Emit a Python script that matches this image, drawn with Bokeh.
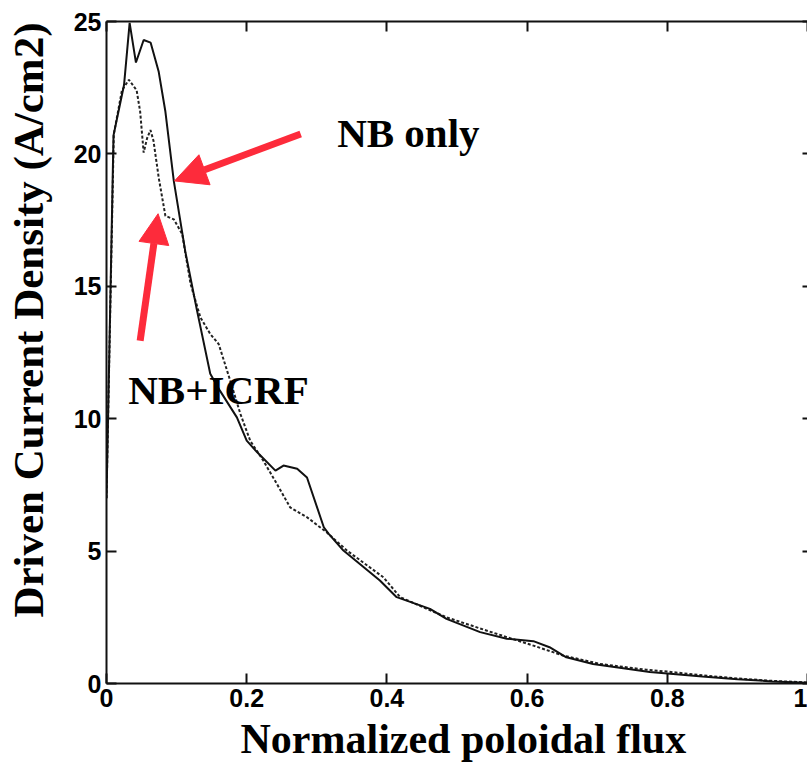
import math
from bokeh.plotting import figure
from bokeh.models import (LinearAxis, Arrow, NormalHead, Title, Range1d,
                          FixedTicker, ColumnDataSource, Label)
from bokeh.embed import file_html
from bokeh.resources import INLINE
from bokeh.core.properties import value

# ---- data ----
nb_x = [0, 0.01, 0.025, 0.033, 0.042, 0.053, 0.063, 0.0745, 0.084, 0.096,
        0.1125, 0.129, 0.148, 0.162, 0.186, 0.2, 0.215, 0.241, 0.2525, 0.272,
        0.286, 0.31, 0.317, 0.338, 0.39, 0.414, 0.4615, 0.485, 0.533, 0.571,
        0.609, 0.632, 0.656, 0.694, 0.727, 0.775, 0.8, 0.85, 0.9, 0.95, 1.0]
nb_y = [7.0, 20.7, 22.6, 24.95, 23.45, 24.3, 24.2, 23.1, 21.6, 18.98,
        16.3, 14.1, 11.7, 11.05, 10.05, 9.17, 8.73, 8.04, 8.23, 8.11,
        7.78, 5.9, 5.65, 5.02, 3.89, 3.26, 2.82, 2.44, 1.94, 1.69,
        1.6, 1.37, 0.99, 0.74, 0.61, 0.43, 0.38, 0.26, 0.16, 0.08, 0.03]

icrf_x = [0, 0.0104, 0.022, 0.032, 0.043, 0.048, 0.053, 0.058, 0.0627, 0.067,
          0.0745, 0.084, 0.096, 0.108, 0.12, 0.134, 0.148, 0.16, 0.1766, 0.191,
          0.205, 0.224, 0.243, 0.262, 0.286, 0.314, 0.343, 0.395, 0.419, 0.485,
          0.542, 0.609, 0.651, 0.704, 0.77, 0.8, 0.85, 0.9, 0.95, 1.0]
icrf_y = [7.0, 20.74, 22.4, 22.8, 22.4, 21.6, 20.05, 20.6, 20.9, 20.5,
          19.1, 17.66, 17.53, 16.97, 15.08, 13.82, 13.2, 12.82, 11.43, 10.18,
          9.17, 8.4, 7.54, 6.65, 6.28, 5.71, 5.02, 4.01, 3.26, 2.5,
          2.0, 1.43, 1.06, 0.74, 0.52, 0.45, 0.31, 0.19, 0.1, 0.04]

x_ticks = [0, 0.2, 0.4, 0.6, 0.8, 1.0]
x_tick_labels = ["0", "0.2", "0.4", "0.6", "0.8", "1"]
y_ticks = [0, 5, 10, 15, 20, 25]
y_tick_labels = ["0", "5", "10", "15", "20", "25"]

labels_text = ["NB only", "NB+ICRF"]

RED = "#fd2b3b"
TICK_FONT = "Liberation Sans"
SERIF = "Liberation Serif"

p = figure(width=807, height=766, output_backend="svg", toolbar_location=None,
           x_range=Range1d(0, 1), y_range=Range1d(0, 25),
           x_axis_location=None, y_axis_location=None,
           min_border_left=106, min_border_right=0,
           min_border_top=21, min_border_bottom=83)
p.grid.visible = False
p.outline_line_color = None
p.background_fill_color = "white"
p.border_fill_color = "white"


def style_axis(ax, ticks, labels, show_labels=True, line=True, tick_in=10):
    ax.ticker = FixedTicker(ticks=ticks)
    ax.major_tick_in = tick_in
    ax.major_tick_out = 0
    ax.minor_tick_in = 0
    ax.minor_tick_out = 0
    ax.major_tick_line_width = 2
    ax.major_tick_line_color = "#111111"
    ax.axis_line_width = 2
    ax.axis_line_color = "#111111" if line else None
    ax.major_label_text_font = TICK_FONT
    ax.major_label_text_font_style = "bold"
    if show_labels:
        ax.major_label_overrides = {t: l for t, l in zip(ticks, labels)}
        ax.major_label_text_color = "black"
        ax.major_label_text_font_size = "25px"
    else:
        ax.major_label_text_color = None
        ax.major_label_text_font_size = "1px"
        ax.major_label_standoff = 0


left = LinearAxis()
style_axis(left, y_ticks, y_tick_labels)
left.major_label_standoff = 5
p.add_layout(left, "left")

bottom = LinearAxis()
style_axis(bottom, x_ticks, x_tick_labels)
bottom.major_label_standoff = 5
p.add_layout(bottom, "below")

top = LinearAxis()
style_axis(top, x_ticks, x_tick_labels, show_labels=False)
p.add_layout(top, "above")

right = LinearAxis()
style_axis(right, y_ticks, y_tick_labels, show_labels=False, line=False, tick_in=5)
p.add_layout(right, "right")

# y-axis title, placed in the left side panel
ytitle = Label(x=5, y=661, x_units="screen", y_units="screen",
               text="Driven Current Density (A/cm2)", angle=math.pi / 2,
               text_align="right", text_baseline="alphabetic",
               text_font=SERIF, text_font_style="bold", text_font_size="43px",
               text_color="black")
p.add_layout(ytitle, "left")

xtitle = Title(text="Normalized poloidal flux", align="left", offset=134,
               text_font=SERIF, text_font_style="bold", text_font_size="42px",
               text_color="black", standoff=9)
p.add_layout(xtitle, "below")

src_nb = ColumnDataSource(dict(x=nb_x, y=nb_y))
src_icrf = ColumnDataSource(dict(x=icrf_x, y=icrf_y))
p.line("x", "y", source=src_icrf, line_color="#222222", line_width=2,
       line_dash="3 2")
p.line("x", "y", source=src_nb, line_color="#111111", line_width=2)

# arrows
p.add_layout(Arrow(end=NormalHead(size=32, fill_color=RED, line_color=RED),
                   x_start=0.277, y_start=20.75, x_end=0.097, y_end=18.98,
                   line_color=RED, line_width=7))
p.add_layout(Arrow(end=NormalHead(size=30, fill_color=RED, line_color=RED),
                   x_start=0.048, y_start=12.94, x_end=0.0736, y_end=17.74,
                   line_color=RED, line_width=7))

# annotations
p.text(x=[0.329, 0.031], y=[20.79, 11.09], text=labels_text,
       text_font=value(SERIF), text_font_style="bold",
       text_font_size="41px", text_color="black",
       text_align="left", text_baseline="alphabetic")

open("out.html", "w").write(file_html(p, INLINE))
